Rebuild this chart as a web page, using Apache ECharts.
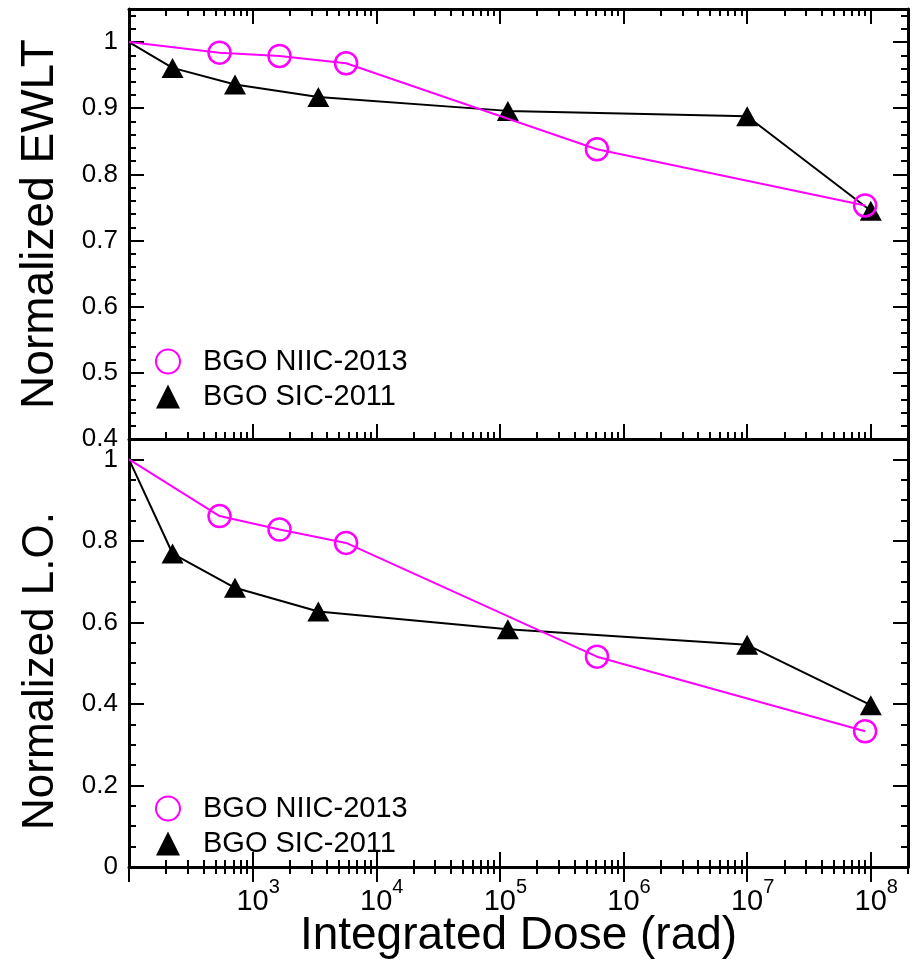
<!DOCTYPE html>
<html>
<head>
<meta charset="utf-8">
<title>BGO radiation damage</title>
<script src="https://cdn.jsdelivr.net/npm/echarts@6/dist/echarts.min.js"></script>
<style>
  html, body { margin: 0; padding: 0; background: #fff; }
  #chart { width: 916px; height: 960px; }
</style>
</head>
<body>
<div id="chart"></div>
<script>
// Integrated dose (rad) for each sample set
const niicDose = [100, 540, 1650, 5700, 6.1e5, 9.0e7];
const sicDose  = [100, 225, 720, 3400, 1.16e5, 1.0e7, 1.0e8];

// Normalized emission weighted longitudinal transmittance
const niicEwlt = [1.0, 0.984, 0.979, 0.968, 0.838, 0.753];
const sicEwlt  = [1.0, 0.961, 0.936, 0.917, 0.896, 0.888, 0.745];

// Normalized light output
const niicLo = [1.0, 0.861, 0.828, 0.795, 0.516, 0.333];
const sicLo  = [1.0, 0.769, 0.685, 0.627, 0.583, 0.545, 0.397];

// Axis ticks
const doseMajor = [1e2, 1e3, 1e4, 1e5, 1e6, 1e7, 1e8];
const doseLabels = [1e3, 1e4, 1e5, 1e6, 1e7, 1e8];
const ewltMajor = [0.4, 0.5, 0.6, 0.7, 0.8, 0.9, 1.0];
const loMajor = [0, 0.2, 0.4, 0.6, 0.8, 1.0];

const NIIC = 'BGO NIIC-2013';
const SIC = 'BGO SIC-2011';
const MAGENTA = '#ff00ff';
const FONT = 'Liberation Sans, Arial, sans-serif';

// minor ticks: 2..9 x 10^n on the dose axis
const doseMinor = [];
for (let e = 2; e <= 8; e++) {
  for (let m = 2; m <= 9; m++) {
    const v = m * Math.pow(10, e);
    if (v <= 2e8) doseMinor.push(v);
  }
}
function steps(lo, hi, step) {
  const out = [];
  const n = Math.round((hi - lo) / step);
  for (let i = 0; i <= n; i++) out.push(+(lo + i * step).toFixed(4));
  return out;
}
const ewltMinor = steps(0.4, 1.04, 0.02);
const loMinor = steps(0, 1.05, 0.05);

function pairs(xs, ys) {
  return xs.map((x, i) => i === 0 ? { value: [x, ys[i]], symbol: 'none' } : [x, ys[i]]);
}

const axisLineStyle = { show: true, lineStyle: { color: '#000', width: 3 } };

function xAxisDef(grid, position, ticks, len, opts) {
  return Object.assign({
    type: 'log', logBase: 10, gridIndex: grid, position: position,
    min: 100, max: 2e8,
    axisLine: { show: false },
    splitLine: { show: false },
    axisTick: { show: true, inside: true, length: len, customValues: ticks,
                lineStyle: { color: '#000', width: 2 } },
    axisLabel: { show: false }
  }, opts || {});
}
function yAxisDef(grid, position, min, max, ticks, len, opts) {
  return Object.assign({
    type: 'value', gridIndex: grid, position: position,
    min: min, max: max,
    axisLine: { show: false },
    splitLine: { show: false },
    axisTick: { show: true, inside: true, length: len, customValues: ticks,
                lineStyle: { color: '#000', width: 2 } },
    axisLabel: { show: false }
  }, opts || {});
}

const yLabel = (vals) => ({
  show: true, customValues: vals, margin: 11, color: '#000',
  fontSize: 26, fontFamily: FONT,
  formatter: v => String(+v.toFixed(2))
});

const xAxes = [
  // upper panel
  xAxisDef(0, 'top', doseMajor, 15, { axisLine: axisLineStyle }),
  xAxisDef(0, 'top', doseMinor, 7),
  xAxisDef(0, 'bottom', doseMajor, 15, { axisLine: axisLineStyle }),
  xAxisDef(0, 'bottom', doseMinor, 7),
  // lower panel
  xAxisDef(1, 'top', doseMajor, 15),
  xAxisDef(1, 'top', doseMinor, 7),
  xAxisDef(1, 'bottom', doseMajor, 15, {
    axisLine: axisLineStyle,
    name: 'Integrated Dose (rad)', nameLocation: 'middle', nameGap: 46,
    nameMoveOverlap: false,
    nameTextStyle: { fontSize: 46, fontFamily: FONT, color: '#000' },
    axisLabel: {
      show: true, customValues: doseLabels, margin: 10, color: '#000',
      formatter: v => '{p|}{b|10}{s|' + Math.round(Math.log10(v)) + '}',
      rich: {
        p: { width: 11 },
        b: { fontSize: 29, fontFamily: FONT, color: '#000', padding: [10, 0, 0, 0], verticalAlign: 'top' },
        s: { fontSize: 20, fontFamily: FONT, color: '#000', verticalAlign: 'top' }
      }
    }
  }),
  xAxisDef(1, 'bottom', doseMinor, 7)
];

const yAxes = [
  // upper panel
  yAxisDef(0, 'left', 0.4, 1.05, ewltMajor, 15, {
    axisLine: axisLineStyle, axisLabel: yLabel(ewltMajor),
    name: 'Normalized EWLT', nameLocation: 'middle', nameGap: 66, nameRotate: 90,
    nameMoveOverlap: false,
    nameTextStyle: { fontSize: 46, fontFamily: FONT, color: '#000' }
  }),
  yAxisDef(0, 'left', 0.4, 1.05, ewltMinor, 7),
  yAxisDef(0, 'right', 0.4, 1.05, ewltMajor, 15, { axisLine: axisLineStyle }),
  yAxisDef(0, 'right', 0.4, 1.05, ewltMinor, 7),
  // lower panel
  yAxisDef(1, 'left', 0, 1.05, loMajor, 15, {
    axisLine: axisLineStyle, axisLabel: yLabel(loMajor),
    name: 'Normalized L.O.', nameLocation: 'middle', nameGap: 66, nameRotate: 90,
    nameMoveOverlap: false,
    nameTextStyle: { fontSize: 44, fontFamily: FONT, color: '#000', padding: [0, 36, 0, 0] }
  }),
  yAxisDef(1, 'left', 0, 1.05, loMinor, 7),
  yAxisDef(1, 'right', 0, 1.05, loMajor, 15, { axisLine: axisLineStyle }),
  yAxisDef(1, 'right', 0, 1.05, loMinor, 7)
];

function sicSeries(xIdx, yIdx, ys) {
  return {
    name: SIC, type: 'line', xAxisIndex: xIdx, yAxisIndex: yIdx,
    data: pairs(sicDose, ys),
    symbol: 'triangle', symbolSize: [22, 20],
    lineStyle: { color: '#000', width: 2 },
    itemStyle: { color: '#000' },
    z: 2, animation: false
  };
}
function niicSeries(xIdx, yIdx, ys) {
  return {
    name: NIIC, type: 'line', xAxisIndex: xIdx, yAxisIndex: yIdx,
    data: pairs(niicDose, ys),
    symbol: 'circle', symbolSize: 22,
    lineStyle: { color: MAGENTA, width: 2 },
    itemStyle: { color: 'rgba(0,0,0,0)', borderColor: MAGENTA, borderWidth: 2.5 },
    z: 3, animation: false
  };
}

const legendDef = (top) => ({
  orient: 'vertical', left: 150, top: top,
  itemWidth: 24, itemHeight: 24, itemGap: 6,
  selectedMode: false,
  textStyle: { fontSize: 29, fontFamily: FONT, color: '#000', padding: [0, 0, 0, 18] },
  data: [{ name: NIIC, icon: 'circle' }, { name: SIC, icon: 'triangle' }]
});

const chart = echarts.init(document.getElementById('chart'), null, { renderer: 'canvas' });
chart.setOption({
  backgroundColor: '#fff',
  animation: false,
  grid: [
    { left: 129, right: 8, top: 9, height: 430, containLabel: false, outerBoundsMode: 'none' },
    { left: 129, right: 8, top: 439, height: 428, containLabel: false, outerBoundsMode: 'none' }
  ],
  legend: [legendDef(342), legendDef(789)],
  xAxis: xAxes,
  yAxis: yAxes,
  series: [
    sicSeries(2, 0, sicEwlt),
    niicSeries(2, 0, niicEwlt),
    sicSeries(6, 4, sicLo),
    niicSeries(6, 4, niicLo)
  ]
});
</script>
</body>
</html>
